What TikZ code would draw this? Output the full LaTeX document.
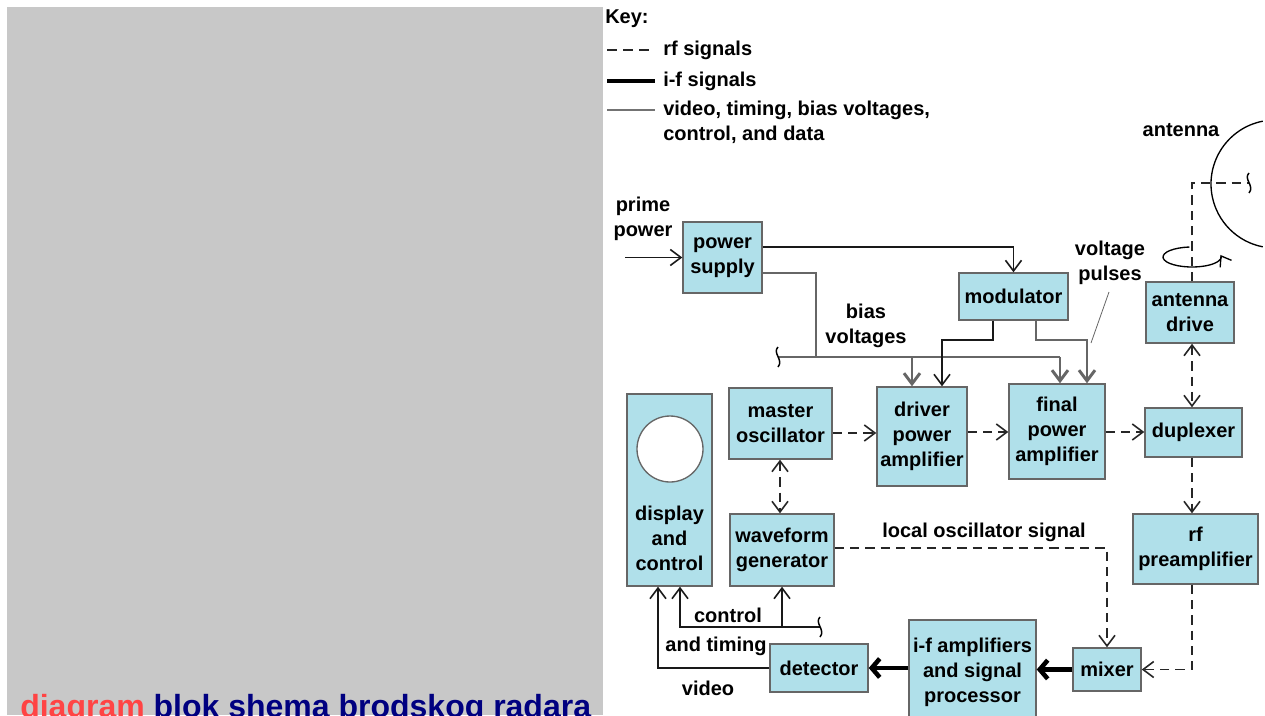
\documentclass[tikz,border=0pt]{standalone}
\usepackage{fontspec}
\setmainfont{Liberation Sans}
\usetikzlibrary{arrows.meta}
\definecolor{boxblue}{HTML}{B0E0EA}
\definecolor{panelgray}{HTML}{C8C8C8}
\definecolor{titlered}{HTML}{FF4444}
\definecolor{titlenavy}{HTML}{000080}
\tikzset{
  blk/.style={draw=black!60, fill=boxblue, line width=1.1pt, inner sep=0pt, align=center,
    font=\bfseries\fontsize{15}{18.75}\selectfont},
  lbl/.style={inner sep=0pt, align=center, font=\bfseries\fontsize{15}{18.75}\selectfont},
  sig/.style={line width=1.2pt, draw=black!90},
  bias/.style={line width=2.2pt, draw=black!60},
  rf/.style={line width=1.2pt, draw=black!85, dash pattern=on 7pt off 4.5pt},
  ifs/.style={line width=3.4pt, draw=black},
  brk/.pic={\draw[line width=1.1pt] (0,-10) .. controls (-6,-4) and (6,3) .. (0,10);},
  >={Straight Barb[length=8pt,width=12pt]},
}
\begin{document}
\begin{tikzpicture}[x=0.75pt, y=-0.75pt]
\useasboundingbox (0,0) rectangle (1265,715);
% left panel and caption
\fill[panelgray] (7,7) rectangle (603,715);
\node[anchor=base west, inner sep=0pt, font=\bfseries\fontsize{24}{28}\selectfont] (title) at (20,717)
  {\textcolor{titlered}{diagram} \textcolor{titlenavy}{blok shema brodskog radara}};

% key
\node[lbl, anchor=west] (keyhd) at (605,19) {Key:};
\coordinate (kra) at (607,50);  \coordinate (krb) at (655,50);
\coordinate (kia) at (607,81);  \coordinate (kib) at (655,81);
\coordinate (kva) at (607,110); \coordinate (kvb) at (655,110);
\draw[rf, dash pattern=on 7.5pt off 4.5pt] (kra) -- (krb);
\draw[ifs] (kia) -- (kib);
\draw[bias, line width=1.8pt, draw=black!55] (kva) -- (kvb);
\node[lbl, anchor=west] (keyrf) at (663,50) {rf signals};
\node[lbl, anchor=west] (keyif) at (663,81) {i-f signals};
\node[lbl, anchor=west, align=left] (keyvid) at (663,122) {video, timing, bias voltages,\\control, and data};

% blocks
\node[blk, minimum width=59.25pt, minimum height=53.25pt] (psu) at (722.5,257.5) {power\\supply};
\node[blk, minimum width=81.75pt, minimum height=35.25pt] (mod) at (1013.5,296.5) {modulator};
\node[blk, minimum width=66pt, minimum height=45.75pt] (antdrv) at (1190,312.5) {antenna\\drive};
\node[blk, minimum width=77.25pt, minimum height=53.25pt] (mosc) at (780.5,423.5) {master\\oscillator};
\node[blk, minimum width=67.5pt, minimum height=74.25pt] (drv) at (922,436.5) {driver\\power\\amplifier};
\node[blk, minimum width=72pt, minimum height=71.25pt] (fin) at (1057,431.5) {final\\power\\amplifier};
\node[blk, minimum width=72.75pt, minimum height=36.75pt] (dup) at (1193.5,432.5) {duplexer};
\node[blk, minimum width=63.75pt, minimum height=144pt] (disp) at (669.5,490) {};
\node[lbl] (disptxt) at (669.5,538) {display\\and\\control};
\node[circle, draw=black!60, fill=white, line width=1pt, minimum size=49.5pt, inner sep=0pt] (crt) at (670,449) {};
\node[blk, minimum width=78pt, minimum height=54pt] (wave) at (782,550) {waveform\\generator};
\node[blk, minimum width=93.75pt, minimum height=52.5pt] (rfp) at (1195.5,549) {rf\\preamplifier};
\node[blk, minimum width=73.5pt, minimum height=36pt] (det) at (819,668) {detector};
\node[blk, minimum width=95.25pt, minimum height=78pt] (ifa) at (972.5,672) {i-f amplifiers\\and signal\\processor};
\node[blk, minimum width=51pt, minimum height=32.25pt] (mix) at (1107,669.5) {mixer};

% labels
\node[lbl] (prime) at (643,219) {prime\\power};
\node[lbl] (biasv) at (866,326) {bias\\voltages};
\node[lbl] (volpul) at (1110,263) {voltage\\pulses};
\node[lbl] (antlbl) at (1181,130) {antenna};
\node[lbl] (lolbl) at (984,532) {local oscillator signal};
\node[lbl] (ctllbl) at (728,615) {control};
\node[lbl] (timlbl) at (716,646) {and timing};
\node[lbl] (vidlbl) at (708,688) {video};

% power and bias wiring
\coordinate (ppin) at (625,257.5);
\coordinate (bbrk) at (778,357);
\coordinate (bjoin) at (816,357);
\coordinate (bend) at (1060,357);
\coordinate (bdrop) at (912,357);
\draw[sig,->] (ppin) -- (psu.west);
\draw[sig,->] (psu.east |- 0,247) -| (mod.north);
\draw[bias] (psu.east |- 0,273) -| (bjoin);
\draw[bias] (bbrk) -- (bend);
\pic at (bbrk) {brk};
\draw[bias,->] (bdrop) -- (drv.north -| bdrop);
\draw[bias,->] (bend) -- (fin.north -| bend);
\draw[sig,->] (mod.south -| 993,0) |- (942,340) -- (drv.north -| 942,0);
\draw[bias,->] (mod.south -| 1036,0) |- (1087,340) -- (fin.north -| 1087,0);
\coordinate (vptip) at (1091,343);
\draw[line width=0.6pt, draw=black!60] (1109,292) -- (vptip);

% rf chain
\draw[rf,->] (mosc.east |- 0,433) -- (drv.west |- 0,433);
\draw[rf,->] (drv.east |- 0,432) -- (fin.west |- 0,432);
\draw[rf,->] (fin.east |- 0,432) -- (dup.west |- 0,432);
\draw[rf,<->] (mosc.south -| 780,0) -- (wave.north -| 780,0);
\draw[rf,<->] (antdrv.south -| 1192,0) -- (dup.north -| 1192,0);
\draw[rf,->] (dup.south -| 1192,0) -- (rfp.north -| 1192,0);
\draw[rf,->] (rfp.south -| 1192,0) |- (mix.east);
\draw[rf,->] (wave.east |- 0,548) -| (mix.north -| 1107,0);

% antenna
\coordinate (feed) at (1249,183);
\coordinate (dishc) at (1275,184);
\coordinate (rotc) at (1192,257);
\draw[rf] (antdrv.north -| 1192,0) |- (feed);
\pic at (feed) {brk};
\draw[line width=1pt] (dishc) ++(101:48pt) arc[start angle=101, end angle=259, radius=48pt];
\draw[line width=1pt, -{Straight Barb[length=7pt,width=10pt]}] (rotc) ++(95:21.75pt and 7.5pt)
  arc[start angle=95, end angle=372, x radius=21.75pt, y radius=7.5pt];

% i-f and video
\draw[ifs,-{Straight Barb[length=6pt,width=14pt]}] (mix.west) -- (ifa.east |- mix.west);
\draw[ifs,-{Straight Barb[length=6pt,width=14pt]}] (ifa.west |- det.east) -- (det.east);
\draw[sig,->] (det.west) -| (disp.south -| 658,0);
\coordinate (cbrk) at (820,627);
\coordinate (cjoin) at (782,627);
\draw[sig,->] (cbrk) -| (disp.south -| 680,0);
\draw[sig,->] (cjoin) -- (wave.south -| cjoin);
\pic at (cbrk) {brk};
\end{tikzpicture}
\end{document}
